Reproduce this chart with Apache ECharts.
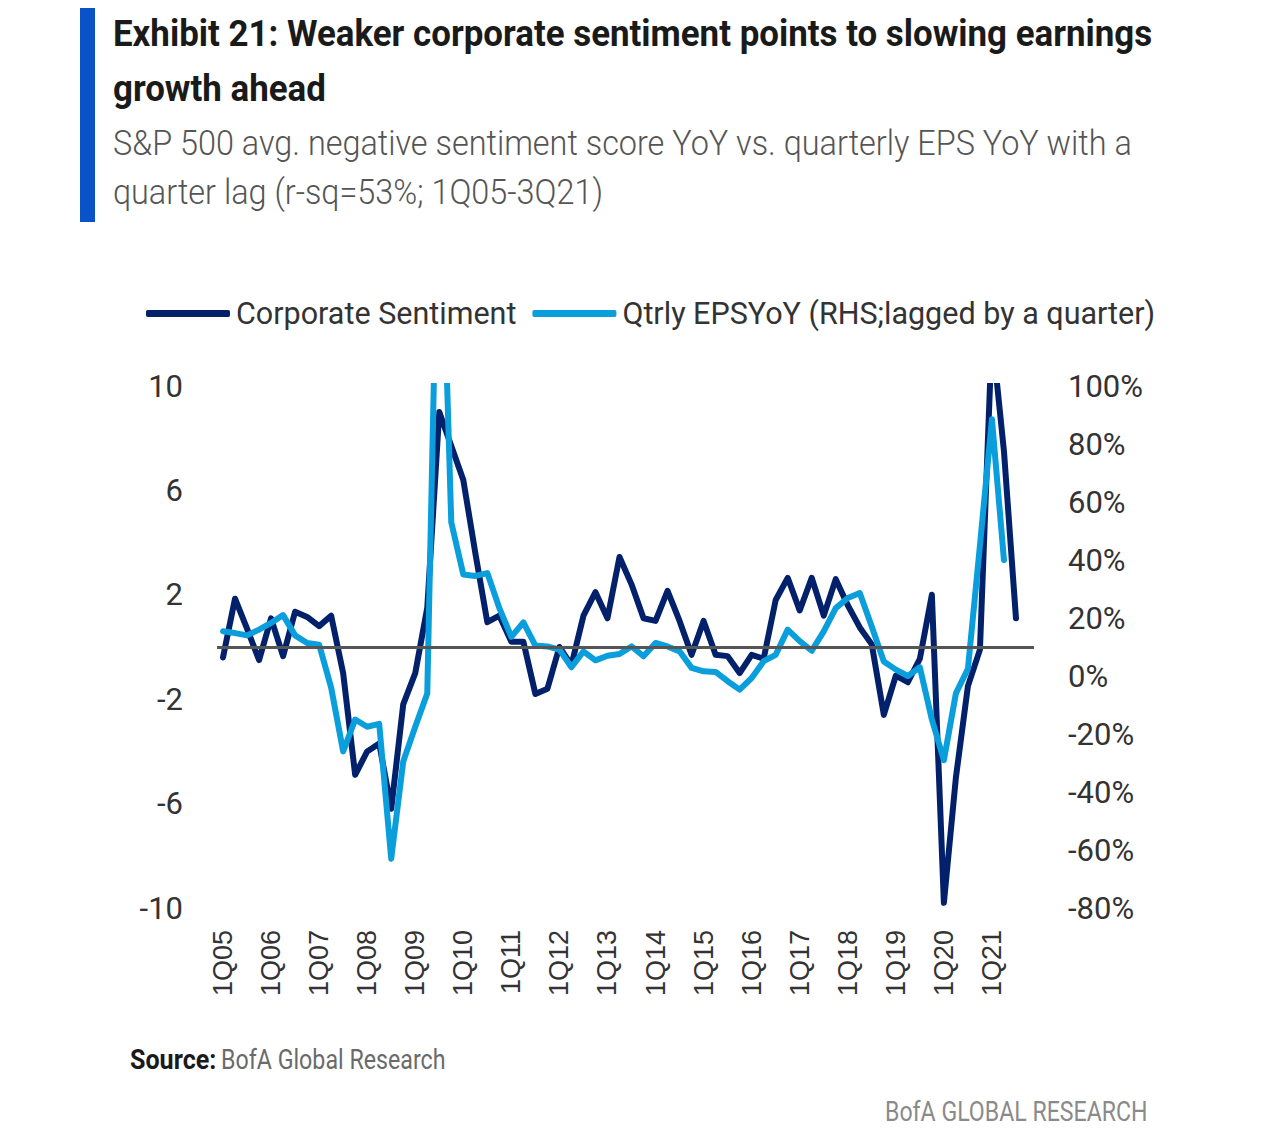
<!DOCTYPE html>
<html>
<head>
<meta charset="utf-8">
<script src="https://cdn.jsdelivr.net/npm/echarts@6/dist/echarts.min.js"></script>
<style>
  html, body { margin: 0; padding: 0; background: #ffffff; }
  #chart { width: 1280px; height: 1130px; }
</style>
</head>
<body>
<div id="chart"></div>
<script>
// ---- DATA ----
const quarters = [
  '1Q05','2Q05','3Q05','4Q05','1Q06','2Q06','3Q06','4Q06','1Q07','2Q07','3Q07','4Q07',
  '1Q08','2Q08','3Q08','4Q08','1Q09','2Q09','3Q09','4Q09','1Q10','2Q10','3Q10','4Q10',
  '1Q11','2Q11','3Q11','4Q11','1Q12','2Q12','3Q12','4Q12','1Q13','2Q13','3Q13','4Q13',
  '1Q14','2Q14','3Q14','4Q14','1Q15','2Q15','3Q15','4Q15','1Q16','2Q16','3Q16','4Q16',
  '1Q17','2Q17','3Q17','4Q17','1Q18','2Q18','3Q18','4Q18','1Q19','2Q19','3Q19','4Q19',
  '1Q20','2Q20','3Q20','4Q20','1Q21','2Q21','3Q21','4Q21'
];
// Corporate sentiment (LHS), 1Q05-3Q21
const corporateSentiment = [
  -0.4, 1.85, 0.7, -0.5, 1.1, -0.35, 1.35, 1.15, 0.8, 1.2, -1.0, -4.9,
  -4.0, -3.7, -6.2, -2.2, -1.0, 1.5, 9.0, 7.7, 6.4, 3.6, 0.95, 1.2,
  0.2, 0.2, -1.8, -1.6, 0.0, -0.7, 1.2, 2.1, 1.1, 3.45, 2.4, 1.1,
  1.0, 2.15, 1.0, -0.3, 1.0, -0.3, -0.35, -1.0, -0.3, -0.45, 1.8, 2.65,
  1.4, 2.65, 1.2, 2.6, 1.6, 0.75, 0.1, -2.6, -1.1, -1.35, -0.45, 2.0,
  -9.8, -5.0, -1.5, -0.1, 12.0, 7.5, 1.1
];
// Quarterly EPS YoY, % (RHS, lagged by a quarter), 1Q05-2Q21
const qtrlyEpsYoY = [
  15.4, 14.8, 14.0, 16.0, 18.3, 21.0, 14.0, 11.4, 10.8, -4.0, -26.0, -15.0,
  -17.5, -16.5, -63.0, -29.5, -17.5, -6.0, 190.0, 53.0, 35.0, 34.5, 35.5, 23.4,
  13.5, 18.5, 10.5, 10.2, 9.1, 3.0, 8.5, 5.4, 7.0, 7.6, 10.2, 6.8,
  11.4, 10.2, 8.5, 2.8, 1.6, 1.4, -1.8, -4.7, -0.7, 5.1, 7.3, 16.0,
  12.0, 8.7, 15.4, 23.4, 26.9, 28.6, 17.0, 5.0, 2.2, 0.0, 3.0, -15.0,
  -29.0, -6.0, 2.5, 45.0, 88.5, 40.0
];
const seriesNames = ['Corporate Sentiment', 'Qtrly EPSYoY (RHS;lagged by a quarter)'];
const titleLines = ['Exhibit 21: Weaker corporate sentiment points to slowing earnings', 'growth ahead'];
const subtitleLines = ['S&P 500 avg. negative sentiment score YoY vs. quarterly EPS YoY with a', 'quarter lag (r-sq=53%; 1Q05-3Q21)'];
const sourceLabel = 'Source:';
const sourceText = 'BofA Global Research';
const brandText = 'BofA GLOBAL RESEARCH';

// ---- STYLE ----
const FONT = 'Roboto, "Noto Sans", sans-serif';
const DARK = '#03216b';
const LIGHT = '#0a9fdc';

function txt(x, y, text, font, fill, sx) {
  return {
    type: 'text', x: x, y: y, scaleX: sx, scaleY: 1, originX: 0, originY: 0,
    style: { text: text, font: font, fill: fill, textVerticalAlign: 'top', textAlign: 'left' }
  };
}

const chart = echarts.init(document.getElementById('chart'), null, { renderer: 'svg' });
chart.setOption({
  backgroundColor: '#ffffff',
  animation: false,
  graphic: [
    { type: 'rect', x: 80, y: 8, shape: { width: 15, height: 214 }, style: { fill: '#0a52c8' } },
    txt(113, 15, titleLines[0], 'bold 37px ' + FONT, '#1a1a1a', 0.943),
    txt(113, 70, titleLines[1], 'bold 37px ' + FONT, '#1a1a1a', 0.943),
    txt(113, 124, subtitleLines[0], '300 36px ' + FONT, '#555555', 0.90),
    txt(113, 173, subtitleLines[1], '300 36px ' + FONT, '#555555', 0.90),
    txt(130, 1046, sourceLabel, 'bold 27px ' + FONT, '#1a1a1a', 0.93),
    txt(221, 1046, sourceText, '27px ' + FONT, '#6a6a6a', 0.86),
    txt(885, 1098, brandText, '27px ' + FONT, '#8a8a8a', 0.856)
  ],
  legend: {
    left: 141, top: 293,
    itemWidth: 84, itemHeight: 7, itemGap: 16,
    icon: 'roundRect',
    textStyle: { fontFamily: FONT, fontSize: 30.5, color: '#333333', padding: [0, 0, 0, 1] },
    data: seriesNames
  },
  grid: { left: 217, right: 246, top: 386, bottom: 222, containLabel: false },
  xAxis: {
    type: 'category',
    data: quarters,
    boundaryGap: true,
    axisLine: { show: false },
    axisTick: { show: false },
    splitLine: { show: false },
    axisLabel: {
      interval: 3, rotate: 90, margin: 22,
      fontFamily: '"Liberation Sans", Arial, sans-serif', fontSize: 27, color: '#333333'
    }
  },
  yAxis: [
    {
      type: 'value', min: -10, max: 10, interval: 4, position: 'left',
      axisLine: { show: false }, axisTick: { show: false }, splitLine: { show: false },
      axisLabel: { margin: 34, fontFamily: FONT, fontSize: 31, color: '#333333' }
    },
    {
      type: 'value', min: -80, max: 100, interval: 20, position: 'right',
      axisLine: { show: false }, axisTick: { show: false }, splitLine: { show: false },
      axisLabel: { margin: 34, fontFamily: FONT, fontSize: 31, color: '#333333', formatter: '{value}%' }
    }
  ],
  series: [
    {
      name: seriesNames[0], type: 'line', yAxisIndex: 0, data: corporateSentiment,
      symbol: 'none', clip: true,
      lineStyle: { color: DARK, width: 6, join: 'round', cap: 'round' },
      itemStyle: { color: DARK },
      markLine: {
        silent: true, symbol: 'none', label: { show: false },
        lineStyle: { color: '#555555', width: 3, type: 'solid' },
        data: [{ yAxis: 0 }]
      },
      z: 2
    },
    {
      name: seriesNames[1], type: 'line', yAxisIndex: 1, data: qtrlyEpsYoY,
      symbol: 'none', clip: true,
      lineStyle: { color: LIGHT, width: 6, join: 'round', cap: 'round' },
      itemStyle: { color: LIGHT },
      z: 3
    }
  ]
});
</script>
</body>
</html>
